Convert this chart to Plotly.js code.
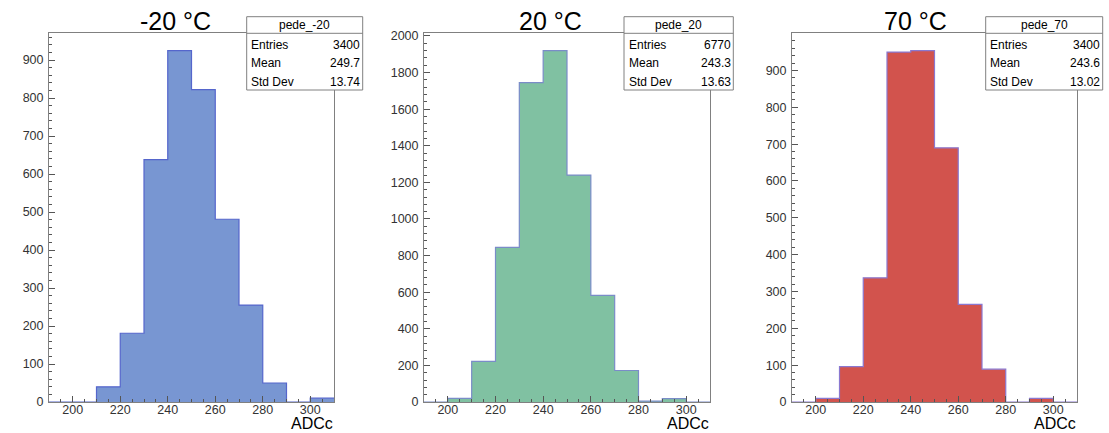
<!DOCTYPE html>
<html><head><meta charset="utf-8">
<script src="https://cdn.plot.ly/plotly-3.0.1.min.js"></script>
<style>html,body{margin:0;padding:0;background:#fff}#chart{width:1109px;height:433px}</style>
</head><body><div id="chart"></div>
<script>
// ---- data ----
const binEdges = [190,200,210,220,230,240,250,260,270,280,290,300,310];
const countsM20 = [0,0,40,181,638,925,822,481,255,50,0,10];
const counts20  = [0,20,222,845,1745,1920,1240,582,172,5,18,0];
const counts70  = [0,10,96,337,950,954,690,265,89,0,10,0];
const panelTitles = ["-20 °C","20 °C","70 °C"];
const histNames = ["pede_-20","pede_20","pede_70"];
const statLabels = ["Entries","Mean","Std Dev"];
const statEntries = ["3400","6770","3400"];
const statMean = ["249.7","243.3","243.6"];
const statStd = ["13.74","13.63","13.02"];
const xTitle = "ADCc";

const W=1109,H=433;
const fills=["#7896d2","#80c1a2","#d2534d"];
const lines=["#5566cc","#7a8cc8","#8a78d0"];
const xPix=[[49,334],[424,710],[792,1077]];
const yDom=[31/H,400/H];
const yMajor=[100,200,100], yMinor=[20,40,20];
const boxPix=[[246.7,362.7],[624,733.3],[985.7,1102.7]];
const titleX=[175,550,915];
const allCounts=[countsM20,counts20,counts70];

const traces=[], layout={width:W,height:H,margin:{l:0,r:0,t:0,b:0},showlegend:false,
  paper_bgcolor:"#fff",plot_bgcolor:"#fff",shapes:[],annotations:[],
  font:{family:"Liberation Sans, Arial, sans-serif",color:"#000"}};

for(let i=0;i<3;i++){
  const c=allCounts[i];
  const sfx=i===0?"":String(i+1);
  traces.push({type:"scatter",mode:"lines",x:binEdges,y:c.concat([c[c.length-1]]),
    line:{shape:"hv",color:lines[i],width:1.2},fill:"tozeroy",fillcolor:fills[i],
    xaxis:"x"+sfx,yaxis:"y"+sfx,hoverinfo:"skip"});
  const ymax=Math.max(...c)*1.05;
  const tv=[];
  for(let v=0; v<=ymax-yMajor[i]*0.05; v+=yMajor[i]) tv.push(v);
  if(tv[tv.length-1]>ymax-8*yMajor[i]/100 && i===2) tv.pop();
  layout["xaxis"+sfx]={domain:[xPix[i][0]/W,xPix[i][1]/W],range:[190,310],anchor:"y"+sfx,
    showline:true,mirror:true,linecolor:"#808080",linewidth:1,showgrid:false,zeroline:false,
    ticks:"inside",ticklen:6,tickcolor:"#555",tick0:200,dtick:20,
    minor:{ticks:"inside",ticklen:3,dtick:5,tick0:200,tickcolor:"#555",showgrid:false},
    tickfont:{size:12.5,color:"#333"},ticklabelstandoff:-4};
  layout["yaxis"+sfx]={domain:yDom,range:[0,ymax],anchor:"x"+sfx,
    showline:true,mirror:true,linecolor:"#808080",linewidth:1,showgrid:false,zeroline:false,
    ticks:"inside",ticklen:6,tickcolor:"#555",tickmode:"array",tickvals:tv,
    minor:{ticks:"inside",ticklen:3,dtick:yMinor[i],tick0:0,tickcolor:"#555",showgrid:false},
    tickfont:{size:12.5,color:"#333"},ticklabelstandoff:2};
  // title
  layout.annotations.push({xref:"paper",yref:"paper",x:titleX[i]/W,y:(H-21)/H,text:panelTitles[i],
    showarrow:false,xanchor:"center",yanchor:"middle",font:{size:25,color:"#000"}});
  // x axis title
  layout.annotations.push({xref:"paper",yref:"paper",x:xPix[i][1]/W,y:0,text:xTitle,
    showarrow:false,xanchor:"right",yanchor:"bottom",font:{size:16,color:"#000"},borderpad:0});
  // stats box
  const bx=boxPix[i];
  layout.shapes.push({type:"rect",xref:"paper",yref:"paper",x0:bx[0]/W,x1:bx[1]/W,y0:(H-90)/H,y1:(H-16.7)/H,
    fillcolor:"#fff",line:{color:"#808080",width:1},layer:"above"});
  layout.shapes.push({type:"line",xref:"paper",yref:"paper",x0:bx[0]/W,x1:bx[1]/W,y0:(H-33.3)/H,y1:(H-33.3)/H,
    line:{color:"#808080",width:1},layer:"above"});
  layout.annotations.push({xref:"paper",yref:"paper",x:(bx[0]+bx[1])/2/W,y:(H-25)/H,text:histNames[i],
    showarrow:false,xanchor:"center",yanchor:"middle",font:{size:12,color:"#000"}});
  const vals=[statEntries[i],statMean[i],statStd[i]];
  const rowsY=[45,63.3,81.7];
  for(let r=0;r<3;r++){
    layout.annotations.push({xref:"paper",yref:"paper",x:(bx[0]+4.5)/W,y:(H-rowsY[r])/H,text:statLabels[r],
      showarrow:false,xanchor:"left",yanchor:"middle",font:{size:12,color:"#000"},xshift:-2});
    layout.annotations.push({xref:"paper",yref:"paper",x:(bx[1]-2.5)/W,y:(H-rowsY[r])/H,text:vals[r],
      showarrow:false,xanchor:"right",yanchor:"middle",font:{size:12,color:"#000"},xshift:2});
  }
}
Plotly.newPlot("chart",traces,layout,{staticPlot:true,displayModeBar:false});
</script></body></html>
